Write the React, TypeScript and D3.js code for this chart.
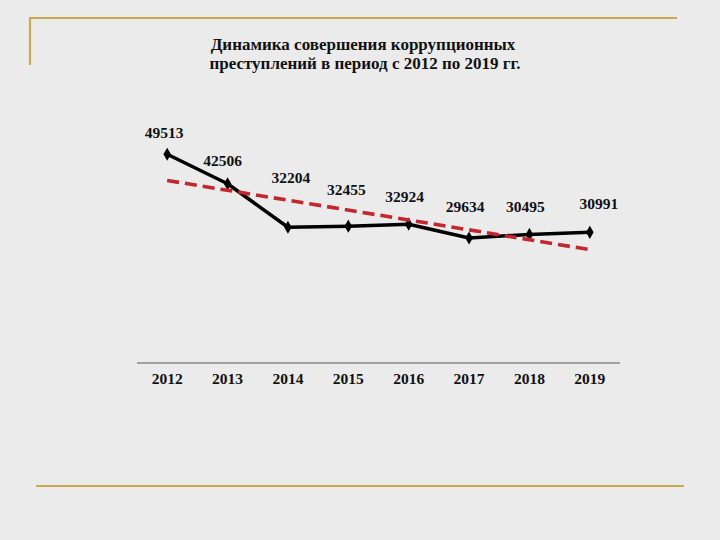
import React from "react";
import * as d3 from "d3";

const years = ["2012", "2013", "2014", "2015", "2016", "2017", "2018", "2019"];
const crimes = [49513, 42506, 32204, 32455, 32924, 29634, 30495, 30991];
const titleLines = ["Динамика совершения коррупционных", "преступлений в период с 2012 по 2019 гг."];

// per-label nudges (layout only)
const labelDx = [-3, -5, 3, -2, -4, -4, -4, 9];
const labelDy = [-16, -18, -44, -31, -22, -26, -22, -23];

const W = 720;
const H = 540;
const GOLD = "#c9a94e";
const SERIF = "'Liberation Serif', 'Times New Roman', serif";

export default function App() {
  const x = d3.scaleBand<string>().domain(years).range([137, 620]);
  const cx = (i: number) => (x(years[i]) as number) + x.bandwidth() / 2;
  const y = d3.scaleLinear().domain([0, 60000]).range([363, 110]);

  const pts: [number, number][] = crimes.map((v, i) => [cx(i), y(v)]);
  const line = d3.line<[number, number]>().x((d) => d[0]).y((d) => d[1]);

  // linear trend (least squares on index)
  const idx = crimes.map((_, i) => i);
  const mx = d3.mean(idx) as number;
  const my = d3.mean(crimes) as number;
  const slope =
    d3.sum(idx, (i) => (i - mx) * (crimes[i] - my)) / d3.sum(idx, (i) => (i - mx) * (i - mx));
  const intercept = my - slope * mx;
  const trend: [number, number][] = [
    [cx(0), y(intercept)],
    [cx(years.length - 1), y(intercept + slope * (years.length - 1))],
  ];

  const diamond = d3.symbol().type(d3.symbolDiamond).size(50)();

  return (
    <div style={{ position: "absolute", left: 0, top: 0, width: W, height: H }}>
      <svg width={W} height={H} style={{ display: "block", background: "#ebebeb" }}>
        <rect x={0} y={0} width={W} height={H} fill="#ebebeb" />
        {/* decorative gold frame lines */}
        <line x1={30} y1={18} x2={677} y2={18} stroke={GOLD} strokeWidth={2.2} />
        <line x1={30} y1={17} x2={30} y2={65} stroke={GOLD} strokeWidth={2.2} />
        <line x1={36} y1={486} x2={684} y2={486} stroke={GOLD} strokeWidth={2.2} />

        {/* title */}
        <text
          x={363}
          y={49.5}
          textAnchor="middle"
          fontFamily={SERIF}
          fontWeight="bold"
          fontSize={17}
          fill="#111"
        >
          {titleLines[0]}
        </text>
        <text
          x={365}
          y={68.5}
          textAnchor="middle"
          fontFamily={SERIF}
          fontWeight="bold"
          fontSize={17}
          fill="#111"
        >
          {titleLines[1]}
        </text>

        {/* axis */}
        <line x1={137} y1={363} x2={620} y2={363} stroke="#8a8a8a" strokeWidth={1.5} />
        {years.map((yr, i) => (
          <text
            key={yr}
            x={cx(i)}
            y={384}
            textAnchor="middle"
            fontFamily={SERIF}
            fontWeight="bold"
            fontSize={15.5}
            fill="#111"
          >
            {yr}
          </text>
        ))}

        {/* series */}
        <path d={line(pts) || ""} fill="none" stroke="#000" strokeWidth={3.5} strokeLinejoin="round" />
        {pts.map((p, i) => (
          <path key={i} d={diamond || ""} transform={`translate(${p[0]},${p[1]})`} fill="#000" />
        ))}

        {/* trend */}
        <path
          d={line(trend) || ""}
          fill="none"
          stroke="#c1272d"
          strokeWidth={3.6}
          strokeDasharray="12,6"
        />

        {/* value labels */}
        {crimes.map((v, i) => (
          <text
            key={i}
            x={pts[i][0] + labelDx[i]}
            y={pts[i][1] + labelDy[i]}
            textAnchor="middle"
            fontFamily={SERIF}
            fontWeight="bold"
            fontSize={15.5}
            fill="#111"
          >
            {v}
          </text>
        ))}
      </svg>
    </div>
  );
}
